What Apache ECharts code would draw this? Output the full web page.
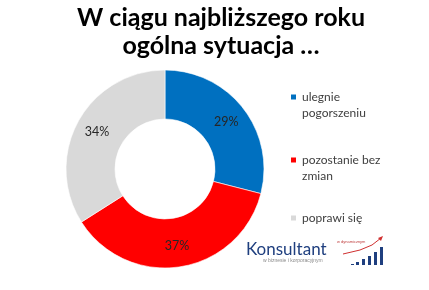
<!DOCTYPE html>
<html>
<head>
<meta charset="utf-8">
<script src="https://cdn.jsdelivr.net/npm/echarts@6/dist/echarts.min.js"></script>
<style>html,body{margin:0;padding:0;background:#fff;}#c{width:429px;height:290px;}</style>
</head>
<body>
<div id="c"></div>
<script>
const categories = ['ulegnie pogorszeniu', 'pozostanie bez zmian', 'poprawi się'];
const legendLabels = ['ulegnie\npogorszeniu', 'pozostanie bez\nzmian', 'poprawi się'];
const values = [29, 37, 34];
const colors = ['#0070C0', '#FF0000', '#D9D9D9'];
const titleText = 'W ciągu najbliższego roku\nogólna sytuacja …';

const chart = echarts.init(document.getElementById('c'), null, {renderer: 'canvas'});
const font = 'Lato, "Open Sans", sans-serif';
const legendTops = [73, 136, 210];

const legends = categories.map((name, i) => {
  const twoLine = legendLabels[i].indexOf('\n') >= 0;
  return {
    orient: 'vertical', left: 289, top: legendTops[i], padding: 0,
    itemWidth: 7, itemHeight: 7, icon: 'rect',
    selectedMode: false,
    formatter: () => (twoLine ? ' \n' : '') + legendLabels[i],
    data: [name],
    textStyle: {fontFamily: font, fontSize: 12, color: '#404040', lineHeight: 16}
  };
});

chart.setOption({
  animation: false,
  backgroundColor: '#fff',
  title: {
    text: titleText, left: 221, top: 4, textAlign: 'center', padding: 0,
    textStyle: {fontFamily: font, fontSize: 25, fontWeight: 'bold', color: '#000', lineHeight: 28}
  },
  legend: legends,
  series: [{
    type: 'pie',
    center: [165, 169],
    radius: [50, 99],
    startAngle: 90,
    clockwise: true,
    avoidLabelOverlap: false,
    itemStyle: {borderColor: '#fff', borderWidth: 0.6},
    label: {
      show: true, position: 'inside', formatter: '{c}%',
      fontFamily: font, fontSize: 12.5, color: '#262626'
    },
    labelLine: {show: false},
    emphasis: {disabled: true},
    data: categories.map((n, i) => ({name: n, value: values[i], itemStyle: {color: colors[i]}}))
  }],
  graphic: [
    {type: 'text', left: 246, top: 241, style: {text: 'Konsultant', font: '17px Lato, sans-serif', fill: '#1F3F7F'}},
    {type: 'text', left: 263, top: 258, style: {text: 'w biznesie i korporacyjnym', font: '5px sans-serif', fill: '#8a8a8a'}},
    {type: 'text', left: 337, top: 240, style: {text: 'w dynamicznym', font: '4px sans-serif', fill: '#c04040'}},
    {type: 'rect', shape: {x: 351, y: 264, width: 3, height: 1}, style: {fill: '#1F3F7F'}},
    {type: 'rect', shape: {x: 356, y: 262, width: 3, height: 3}, style: {fill: '#1F3F7F'}},
    {type: 'rect', shape: {x: 362, y: 259, width: 3, height: 6}, style: {fill: '#1F3F7F'}},
    {type: 'rect', shape: {x: 368, y: 256, width: 3, height: 9}, style: {fill: '#1F3F7F'}},
    {type: 'rect', shape: {x: 374, y: 252, width: 3, height: 13}, style: {fill: '#1F3F7F'}},
    {type: 'rect', shape: {x: 380, y: 247, width: 3, height: 18}, style: {fill: '#1F3F7F'}},
    {type: 'polyline', shape: {points: [[343, 254], [360, 250], [372, 245], [381, 238]]}, style: {stroke: '#d03030', lineWidth: 1, fill: 'none'}},
    {type: 'polygon', shape: {points: [[383, 236], [378, 238], [381, 241]]}, style: {fill: '#d03030'}}
  ]
});
</script>
</body>
</html>
